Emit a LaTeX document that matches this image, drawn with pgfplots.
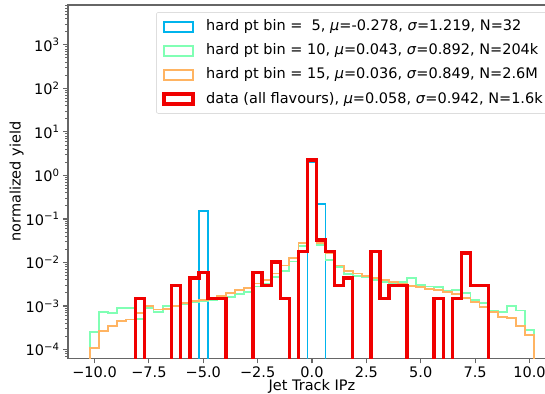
\documentclass[border=0pt]{standalone}
\usepackage{pgfplots}
\pgfplotsset{compat=1.18}
\usepackage{pgfplotstable}
\usepackage{fontspec}
\setmainfont{DejaVu Sans}
\definecolor{cblue}{RGB}{0,180,236}
\definecolor{cgreen}{RGB}{128,255,180}
\definecolor{corange}{RGB}{255,180,98}
\definecolor{cred}{RGB}{240,0,0}
\newcommand{\fs}{\fontsize{14.5}{17}\selectfont}

\pgfplotstableread{
edge blue green orange red
-10.2000 1e-6 1e-6 1e-6 1e-6
-10.2000 1e-6 2.5e-4 1.1e-4 1e-6
-9.7837 1e-6 7.4e-4 2.7e-4 1e-6
-9.3673 1e-6 7.0e-4 3.5e-4 1e-6
-8.9510 1e-6 9.0e-4 4.5e-4 1e-6
-8.5347 1e-6 9.0e-4 4.9e-4 1e-6
-8.1184 1e-6 5.0e-4 6.8e-4 0.001485
-7.7020 1e-6 9.0e-4 1.0e-3 1e-6
-7.2857 1e-6 7.4e-4 8.3e-4 1e-6
-6.8694 1e-6 1.0e-3 8.5e-4 1e-6
-6.4531 1e-6 1.0e-3 1.0e-3 0.002969
-6.0367 1e-6 1.1e-3 1.15e-3 1e-6
-5.6204 1e-6 1.2e-3 1.3e-3 0.004454
-5.2041 0.150 1.3e-3 1.4e-3 0.005938
-4.7878 1e-6 1.35e-3 1.5e-3 0.001485
-4.3714 1e-6 1.6e-3 1.7e-3 0.001485
-3.9551 1e-6 1.6e-3 2.0e-3 1e-6
-3.5388 1e-6 1.9e-3 2.3e-3 1e-6
-3.1224 1e-6 2.1e-3 2.6e-3 1e-6
-2.7061 1e-6 2.8e-3 3.3e-3 0.005938
-2.2898 1e-6 3.3e-3 4.0e-3 0.002969
-1.8735 1e-6 4.7e-3 5.6e-3 0.010392
-1.4571 1e-6 6.5e-3 8.5e-3 0.001485
-1.0408 1e-6 0.0105 0.0125 1e-6
-0.6245 1e-6 0.024 0.0285 0.017814
-0.2082 2.027 2.15 2.18 2.2372
0.2082 0.225 0.025 0.0285 0.032659
0.6245 1e-6 0.0114 0.0168 0.017814
1.0408 1e-6 8.0e-3 8.5e-3 0.002969
1.4571 1e-6 5.4e-3 6.5e-3 0.004454
1.8735 1e-6 4.9e-3 5.6e-3 1e-6
2.2898 1e-6 4.7e-3 4.9e-3 1e-6
2.7061 1e-6 4.0e-3 4.4e-3 0.017814
3.1224 1e-6 3.5e-3 3.9e-3 0.001485
3.5388 1e-6 3.3e-3 3.6e-3 0.002969
3.9551 1e-6 3.5e-3 3.3e-3 0.002969
4.3714 1e-6 4.4e-3 2.9e-3 1e-6
4.7878 1e-6 3.0e-3 2.7e-3 1e-6
5.2041 1e-6 2.8e-3 2.5e-3 1e-6
5.6204 1e-6 2.7e-3 2.3e-3 0.001485
6.0367 1e-6 2.2e-3 2.1e-3 1e-6
6.4531 1e-6 2.3e-3 1.9e-3 0.001485
6.8694 1e-6 1.96e-3 1.5e-3 0.016330
7.2857 1e-6 1.4e-3 1.26e-3 0.002969
7.7020 1e-6 1.15e-3 9.6e-4 0.002969
8.1184 1e-6 7.9e-4 7.4e-4 1e-6
8.5347 1e-6 7.4e-4 5.6e-4 1e-6
8.9510 1e-6 1.0e-3 5.2e-4 1e-6
9.3673 1e-6 7.9e-4 3.5e-4 1e-6
9.7837 1e-6 2.8e-4 2.2e-4 1e-6
10.2000 1e-6 1e-6 1e-6 1e-6
}\histdata

\begin{document}
\begin{tikzpicture}[x=1pt,y=1pt]
\begin{axis}[
  at={(68pt,34.7pt)}, anchor=south west,
  scale only axis, width=488pt, height=353.3pt,
  xmin=-11.22, xmax=11.22,
  ymode=log, ymin=6.3e-5, ymax=8222,
  axis line style={black!60, line width=1.16pt},
  tick pos=left, tick align=outside,
  major tick length=5pt, minor tick length=2.9pt,
  every tick/.style={black!60, line width=1.16pt},
  every minor tick/.style={black!60, line width=0.87pt},
  xtick={-10,-7.5,-5,-2.5,0,2.5,5,7.5,10},
  xticklabels={−10.0,−7.5,−5.0,−2.5,0.0,2.5,5.0,7.5,10.0},
  ytick={1e-4,1e-3,1e-2,1e-1,1,1e1,1e2,1e3},
  yticklabels={10\textsuperscript{−4},10\textsuperscript{−3},10\textsuperscript{−2},10\textsuperscript{−1},10\textsuperscript{0},10\textsuperscript{1},10\textsuperscript{2},10\textsuperscript{3}},
  minor ytick={7e-5,8e-5,9e-5,2e-4,3e-4,4e-4,5e-4,6e-4,7e-4,8e-4,9e-4,2e-3,3e-3,4e-3,5e-3,6e-3,7e-3,8e-3,9e-3,2e-2,3e-2,4e-2,5e-2,6e-2,7e-2,8e-2,9e-2,0.2,0.3,0.4,0.5,0.6,0.7,0.8,0.9,2,3,4,5,6,7,8,9,20,30,40,50,60,70,80,90,200,300,400,500,600,700,800,900,2000,3000,4000,5000,6000,7000,8000},
  ticklabel style={font=\fs},
  xlabel={Jet Track IPz}, ylabel={normalized yield},
  label style={font=\fs},
  xlabel style={yshift=5pt},
  ylabel style={yshift=-5pt},
  legend cell align=left,
  legend image code/.code={\draw[#1, sharp corners] (0pt,-5pt) rectangle (29pt,5pt);},
  legend style={at={(1,1)}, anchor=north east, xshift=-7.25pt, yshift=-7.25pt,
    draw=black!20, rounded corners=2pt, fill=white, fill opacity=0.8, text opacity=1,
    font=\fs, inner xsep=5.8pt, inner ysep=5.8pt, row sep=7.25pt,
    nodes={inner sep=0pt, text height=12.4pt, text depth=4.5pt},
    /tikz/every odd column/.append style={column sep=11.6pt}},
]
\addplot[const plot, cblue, line width=1.8pt] table[x=edge, y=blue] {\histdata};
\addlegendentry{hard pt bin =\ \ 5, \textit{μ}=-0.278, \textit{σ}=1.219, N=32}
\addplot[const plot, cgreen, line width=1.8pt] table[x=edge, y=green] {\histdata};
\addlegendentry{hard pt bin = 10, \textit{μ}=0.043, \textit{σ}=0.892, N=204k}
\addplot[const plot, corange, line width=1.8pt] table[x=edge, y=orange] {\histdata};
\addlegendentry{hard pt bin = 15, \textit{μ}=0.036, \textit{σ}=0.849, N=2.6M}
\addplot[const plot, cred, line width=3.5pt] table[x=edge, y=red] {\histdata};
\addlegendentry{data (all flavours), \textit{μ}=0.058, \textit{σ}=0.942, N=1.6k}
\end{axis}
\pgfresetboundingbox
\path[use as bounding box] (0,0) rectangle (545,393);
\end{tikzpicture}
\end{document}
